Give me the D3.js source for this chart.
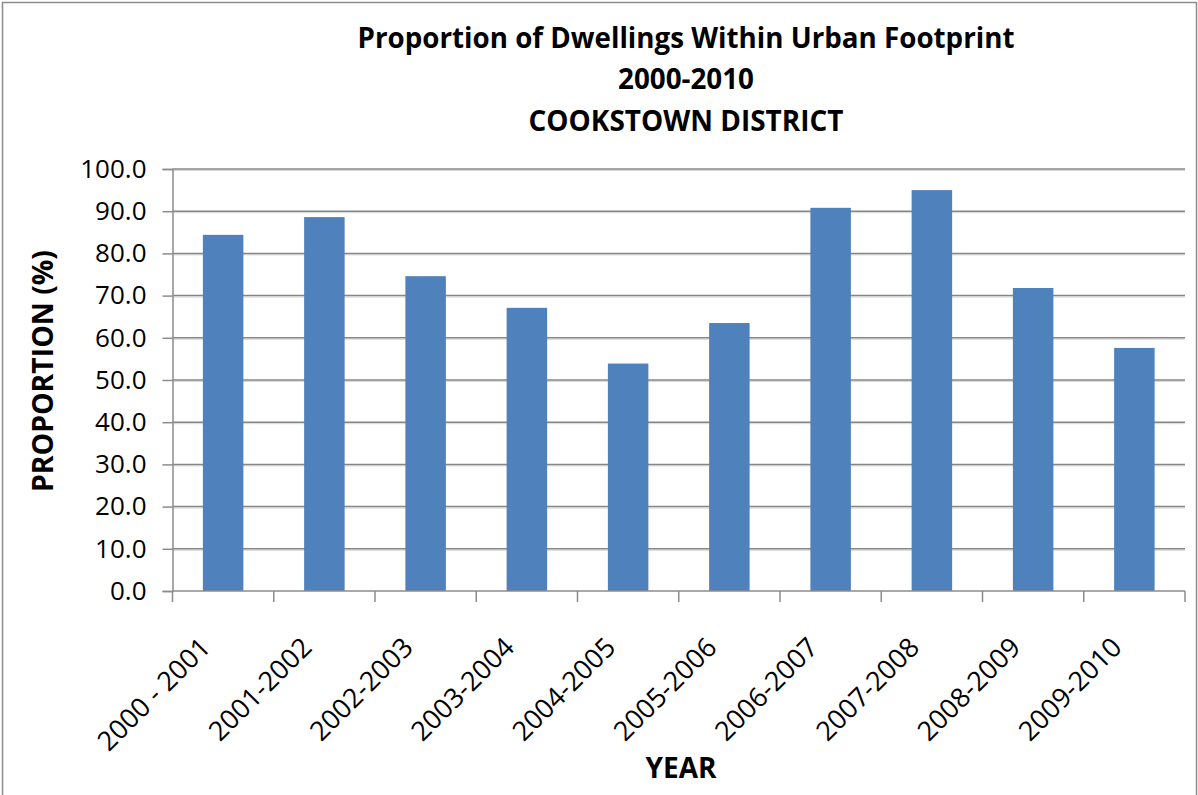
<!DOCTYPE html>
<html lang="en">
<head>
<meta charset="UTF-8">
<title>Proportion of Dwellings Within Urban Footprint</title>
<script src="https://d3js.org/d3.v7.min.js"></script>
<style>
    body { margin: 0; background: #fff; }
    text { font-family: "Open Sans", "Noto Sans", sans-serif; fill: #000; }
    .title { font-weight: bold; font-size: 28px; }
    .axis-title { font-weight: bold; font-size: 28px; }
    .tick-label { font-size: 26px; }
    .x-label { font-size: 27px; }
</style>
</head>
<body>
<div id="chart"></div>
<script>
// data
const years = ["2000 - 2001", "2001-2002", "2002-2003", "2003-2004", "2004-2005",
               "2005-2006", "2006-2007", "2007-2008", "2008-2009", "2009-2010"];
const proportion = [84.4, 88.6, 74.6, 67.1, 53.9, 63.5, 90.8, 95.0, 71.8, 57.6];
const yTicks = [0, 10, 20, 30, 40, 50, 60, 70, 80, 90, 100];
const titleLines = ["Proportion of Dwellings Within Urban Footprint", "2000-2010", "COOKSTOWN DISTRICT"];

const W = 1198, H = 795;
const plot = { left: 172.5, right: 1185, top: 169, bottom: 591 };

const svg = d3.select("#chart").append("svg")
    .attr("width", W)
    .attr("height", H);

// chart border
svg.append("rect")
    .attr("x", 2.5).attr("y", 2.5)
    .attr("width", 1194).attr("height", 805)
    .attr("fill", "#fff")
    .attr("stroke", "#8c8c8c")
    .attr("stroke-width", 1.5);

const x = d3.scaleBand()
    .domain(years)
    .range([plot.left, plot.right])
    .paddingInner(0.6)
    .paddingOuter(0.3);

const y = d3.scaleLinear()
    .domain([0, 100])
    .range([plot.bottom, plot.top]);

// gridlines
const grid = svg.append("g");
yTicks.filter(t => t > 0).forEach(t => {
    grid.append("line")
        .attr("x1", plot.left).attr("x2", plot.right)
        .attr("y1", y(t) + 1.5).attr("y2", y(t) + 1.5)
        .attr("stroke", "#d6d6d6").attr("stroke-width", 1);
    grid.append("line")
        .attr("x1", plot.left).attr("x2", plot.right)
        .attr("y1", y(t)).attr("y2", y(t))
        .attr("stroke", "#868686").attr("stroke-width", 1.5);
});

// bars
svg.selectAll(".bar")
    .data(years)
    .enter()
    .append("rect")
    .attr("class", "bar")
    .attr("x", d => x(d))
    .attr("y", (d, i) => y(proportion[i]))
    .attr("width", x.bandwidth())
    .attr("height", (d, i) => y(0) - y(proportion[i]))
    .attr("fill", "#4f81bd");

// y axis
const yAxis = svg.append("g")
    .attr("transform", `translate(${plot.left},0)`)
    .call(d3.axisLeft(y).tickValues(yTicks).tickSize(10).tickPadding(16).tickFormat(d3.format(".1f")));
yAxis.select(".domain").attr("stroke", "#8c8c8c").attr("stroke-width", 1.5);
yAxis.selectAll(".tick line").attr("stroke", "#8c8c8c").attr("stroke-width", 1.5);
yAxis.selectAll(".tick text").attr("class", "tick-label").attr("fill", "#000").attr("font-size", null).attr("font-family", null);

// x axis: ticks on category boundaries
const boundaries = d3.range(years.length + 1).map(i => plot.left + i * x.step());
const xAxis = svg.append("g");
xAxis.append("line")
    .attr("x1", plot.left).attr("x2", plot.right)
    .attr("y1", plot.bottom).attr("y2", plot.bottom)
    .attr("stroke", "#8c8c8c").attr("stroke-width", 1.5);
xAxis.selectAll(".xtick")
    .data(boundaries)
    .enter()
    .append("line")
    .attr("x1", d => d).attr("x2", d => d)
    .attr("y1", plot.bottom).attr("y2", plot.bottom + 11)
    .attr("stroke", "#8c8c8c").attr("stroke-width", 1.5);
xAxis.selectAll(".xlabel")
    .data(years)
    .enter()
    .append("text")
    .attr("class", "x-label")
    .attr("text-anchor", "end")
    .attr("transform", d => `translate(${x(d) + x.bandwidth() / 2 - 11},649) rotate(-45)`)
    .text(d => d);

// titles
const titleBase = [48, 89, 131];
const titleLen = [657, 136, 315];
titleLines.forEach((t, i) => {
    svg.append("text")
        .attr("class", "title")
        .attr("x", 686)
        .attr("y", titleBase[i])
        .attr("text-anchor", "middle")
        .attr("textLength", titleLen[i])
        .attr("lengthAdjust", "spacingAndGlyphs")
        .text(t);
});

svg.append("text")
    .attr("class", "axis-title")
    .attr("text-anchor", "middle")
    .attr("transform", "translate(53,371) rotate(-90)")
    .attr("textLength", 242)
    .attr("lengthAdjust", "spacingAndGlyphs")
    .text("PROPORTION (%)");

svg.append("text")
    .attr("class", "axis-title")
    .attr("text-anchor", "middle")
    .attr("x", 681)
    .attr("y", 778)
    .attr("textLength", 71)
    .attr("lengthAdjust", "spacingAndGlyphs")
    .text("YEAR");
</script>
</body>
</html>
